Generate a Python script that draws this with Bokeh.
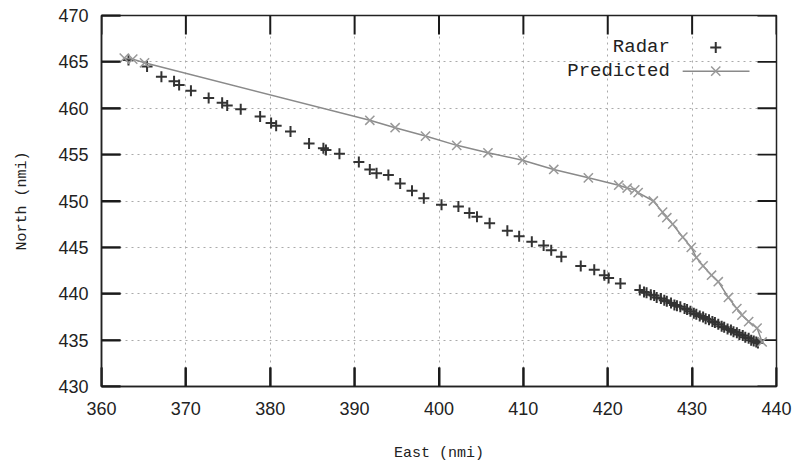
from bokeh.plotting import figure
from bokeh.models import Range1d, FixedTicker, Label
from bokeh.embed import file_html
from bokeh.resources import INLINE

# ---- data ----
radar_east = [363.2, 365.4, 367.1, 368.6, 369.2, 370.6, 372.7, 374.3, 374.9, 376.5,
              378.8, 380.1, 380.7, 382.4, 384.6, 386.3, 386.6, 388.2, 390.5, 391.8,
              392.6, 394.0, 395.4, 396.8, 398.2, 400.3, 402.3, 403.6, 404.5, 406.0,
              408.1, 409.5, 411.0, 412.4, 413.3, 414.5, 416.8, 418.4, 419.6, 420.1,
              421.5,
              423.8, 424.3, 424.6, 425.1, 425.5, 425.8, 426.3, 426.7, 427.0, 427.5,
              427.9, 428.2, 428.6, 429.1, 429.4, 429.8, 430.2, 430.5, 430.9, 431.3,
              431.6, 432.0, 432.4, 432.7, 433.1, 433.5, 433.8, 434.2, 434.6, 434.9,
              435.3, 435.6, 436.0, 436.3, 436.7, 437.0, 437.3, 437.6, 437.8]
radar_north = [465.2, 464.5, 463.4, 462.9, 462.5, 461.9, 461.1, 460.6, 460.3, 459.9,
               459.1, 458.4, 458.1, 457.5, 456.2, 455.7, 455.5, 455.1, 454.2, 453.4,
               453.0, 452.8, 451.9, 451.1, 450.3, 449.6, 449.4, 448.7, 448.3, 447.6,
               446.8, 446.2, 445.6, 445.2, 444.7, 444.0, 443.0, 442.6, 442.0, 441.7,
               441.1,
               440.4, 440.2, 440.1, 439.9, 439.8, 439.6, 439.5, 439.3, 439.2, 439.0,
               438.8, 438.7, 438.6, 438.4, 438.3, 438.1, 437.9, 437.8, 437.6, 437.5,
               437.3, 437.2, 437.0, 436.9, 436.7, 436.5, 436.4, 436.2, 436.1, 435.9,
               435.8, 435.6, 435.5, 435.3, 435.2, 435.0, 434.9, 434.8, 434.7]

pred_east = [362.7, 363.7, 365.1, 391.8, 394.8, 398.4, 402.1, 405.8, 409.9, 413.6,
             417.7, 421.3, 422.3, 423.2, 423.6, 425.4, 426.5, 427.0, 427.7, 428.9,
             429.9, 430.5, 431.3, 432.3, 433.1, 434.3, 435.3, 435.9, 436.7, 437.7,
             438.3]
pred_north = [465.4, 465.3, 464.9, 458.7, 457.9, 457.0, 456.0, 455.2, 454.4, 453.4,
              452.5, 451.7, 451.4, 451.2, 450.9, 450.0, 448.8, 448.2, 447.5, 446.1,
              445.0, 443.9, 443.0, 442.0, 441.3, 439.6, 438.4, 437.7, 437.0, 436.3,
              434.8]

x_ticks = [360, 370, 380, 390, 400, 410, 420, 430, 440]
y_ticks = [430, 435, 440, 445, 450, 455, 460, 465, 470]
series_labels = ["Radar", "Predicted"]

RADAR_COLOR = "#333333"
PRED_COLOR = "#999999"
PRED_LINE = "#8a8a8a"
INK = "#222222"
TICK_COLOR = "#1a1a1a"
TICK_FONT = "Liberation Sans"
MONO_FONT = "Liberation Mono"

W, H = 794, 464
BL, BR, BT, BB = 101, 18, 15, 77
X0, X1, Y0, Y1 = x_ticks[0], x_ticks[-1], y_ticks[0], y_ticks[-1]

p = figure(width=W, height=H, output_backend="svg", toolbar_location=None,
           x_range=Range1d(X0, X1), y_range=Range1d(Y0, Y1),
           min_border_left=BL, min_border_right=BR, min_border_top=BT,
           min_border_bottom=BB, background_fill_color="white",
           border_fill_color="white")
p.outline_line_color = INK
p.outline_line_width = 1.5

TICK_PX = 19
for ax, ticks in ((p.xaxis[0], x_ticks), (p.yaxis[0], y_ticks)):
    ax.ticker = FixedTicker(ticks=ticks)
    ax.major_tick_in = TICK_PX
    ax.major_tick_out = 0
    ax.major_tick_line_color = TICK_COLOR
    ax.major_tick_line_width = 2
    ax.minor_tick_line_color = None
    ax.axis_line_color = INK
    ax.axis_line_width = 1.5
    ax.major_label_text_font = TICK_FONT
    ax.major_label_text_font_size = "18px"
    ax.major_label_text_color = INK
    ax.axis_label_text_font = MONO_FONT
    ax.axis_label_text_font_size = "15px"
    ax.axis_label_text_font_style = "normal"
    ax.axis_label_text_color = INK

p.xaxis.axis_label = "East (nmi)"
p.yaxis.axis_label = "North (nmi)"
p.xaxis.major_label_standoff = 15
p.xaxis.axis_label_standoff = 27
p.yaxis.major_label_standoff = 13
p.yaxis.axis_label_standoff = 24

for g, t in ((p.xgrid[0], x_ticks), (p.ygrid[0], y_ticks)):
    g.ticker = FixedTicker(ticks=t)
    g.grid_line_color = "#aaaaaa"
    g.grid_line_dash = "2 4"
    g.grid_line_width = 1

# inward ticks on all four sides (mirrored) as thin filled bars, derived from tick lists
frame_w = W - BL - BR
frame_h = H - BT - BB
tx = TICK_PX * (X1 - X0) / frame_w
ty = TICK_PX * (Y1 - Y0) / frame_h
hx = 1.0 * (X1 - X0) / frame_w   # half tick thickness (1px) in data units
hy = 1.0 * (Y1 - Y0) / frame_h
nx, ny = len(x_ticks), len(y_ticks)
q_left = ([t - hx for t in x_ticks] * 2) + [X0] * ny + [X1 - tx] * ny
q_right = ([t + hx for t in x_ticks] * 2) + [X0 + tx] * ny + [X1] * ny
q_bottom = [Y0] * nx + [Y1 - ty] * nx + [t - hy for t in y_ticks] * 2
q_top = [Y0 + ty] * nx + [Y1] * nx + [t + hy for t in y_ticks] * 2
p.quad(left=q_left, right=q_right, bottom=q_bottom, top=q_top,
       fill_color=TICK_COLOR, line_color=None)

# data
p.scatter(radar_east, radar_north, marker="cross", size=11,
          line_color=RADAR_COLOR, line_width=2)
p.line(pred_east, pred_north, line_color=PRED_LINE, line_width=1.5)
p.scatter(pred_east, pred_north, marker="x", size=13,
          line_color=PRED_COLOR, line_width=1.5)

# gnuplot-style key (text right-aligned, sample to the right); placed by frame fraction
def fx(f):
    return X0 + f * (X1 - X0)

def fy(f):
    return Y0 + f * (Y1 - Y0)

key_text_x = fx(0.842)
key_sample_x = fx(0.910)
key_line = [fx(0.861), fx(0.960)]
key_rows = [fy(0.914), fy(0.850)]

for lbl, yy in zip(series_labels, key_rows):
    p.add_layout(Label(x=key_text_x, y=yy, text=lbl, text_align="right",
                       text_baseline="middle", text_font=MONO_FONT,
                       text_font_size="19px", text_color=INK))

p.scatter([key_sample_x], [key_rows[0]], marker="cross", size=11,
          line_color=RADAR_COLOR, line_width=2)
p.line(key_line, [key_rows[1], key_rows[1]], line_color=PRED_LINE, line_width=1.5)
p.scatter([key_sample_x], [key_rows[1]], marker="x", size=13,
          line_color=PRED_COLOR, line_width=1.5)

open("out.html", "w").write(file_html(p, INLINE))
